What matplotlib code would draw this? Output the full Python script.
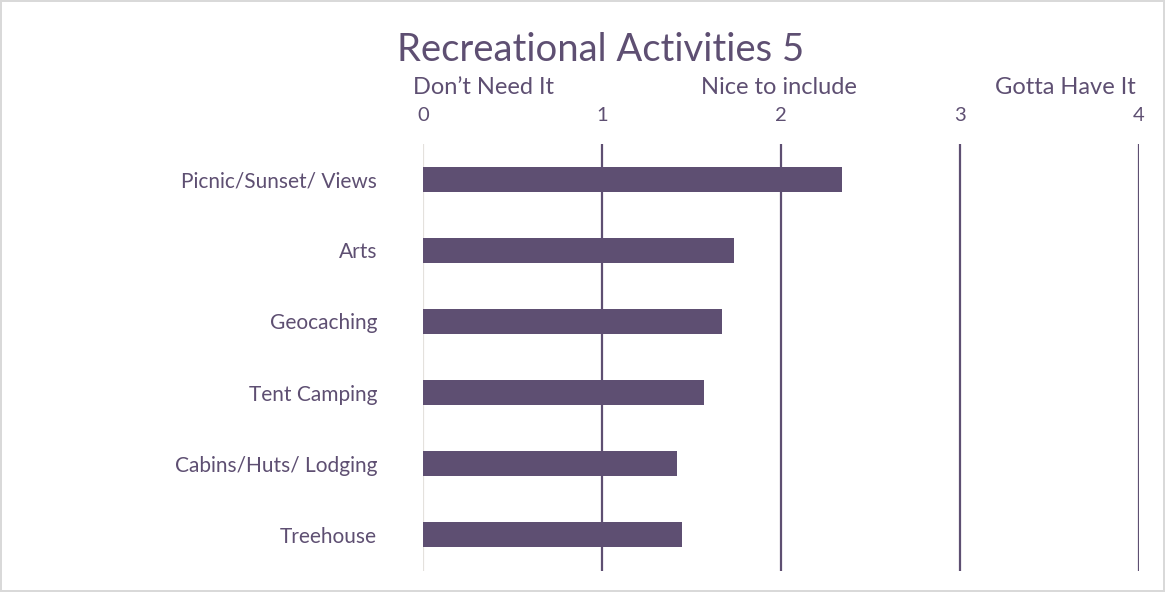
import matplotlib
matplotlib.use("Agg")
import matplotlib.pyplot as plt

categories = ["Picnic/Sunset/ Views", "Arts", "Geocaching", "Tent Camping",
              "Cabins/Huts/ Lodging", "Treehouse"]
scores = [2.34, 1.74, 1.67, 1.57, 1.42, 1.45]
xticks = [0, 1, 2, 3, 4]
headers = ["Don\u2019t Need It", "Nice to include", "Gotta Have It"]
header_pos = [0.34, 1.99, 3.59]

purple = "#5E4F72"
plt.rcParams["font.family"] = ["Lato", "DejaVu Sans"]

fig = plt.figure(figsize=(11.65, 5.92), dpi=100)
fig.patch.set_edgecolor("#D9D9D9")
fig.patch.set_linewidth(1.5)
ax = fig.add_axes([0.363, 0.0363, 0.6147, 0.7213])

y = list(range(len(categories)))
ax.barh(y, scores, height=0.35, color=purple, zorder=3)
ax.set_ylim(len(categories) - 0.5, -0.5)
ax.set_xlim(0, 4)

# vertical grid lines
for t in xticks:
    ax.axvline(t, color="#E4E1DD" if t == 0 else purple, lw=1.6, zorder=1)

ax.xaxis.tick_top()
ax.set_xticks(xticks)
ax.set_xticklabels([str(t) for t in xticks], fontsize=14.5, color=purple)
ax.tick_params(axis="x", length=0, pad=14)
ax.set_yticks(y)
ax.set_yticklabels(categories, fontsize=15, color=purple)
ax.tick_params(axis="y", length=0, pad=33)
for s in ax.spines.values():
    s.set_visible(False)

for h, p in zip(headers, header_pos):
    ax.text(p, 1.13, h, transform=ax.get_xaxis_transform(), ha="center",
            va="center", fontsize=17, color=purple)

fig.text(0.5155, 0.915, "Recreational Activities 5", ha="center", va="center",
         fontsize=27.5, color=purple)

fig.savefig("out.png", dpi=100)
